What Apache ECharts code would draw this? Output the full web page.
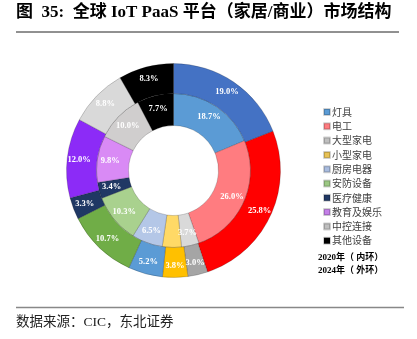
<!DOCTYPE html>
<html><head><meta charset="utf-8">
<script src="https://cdn.jsdelivr.net/npm/echarts@6/dist/echarts.min.js"></script>
<style>html,body{margin:0;padding:0;background:#fff}#c{width:417px;height:339px}</style>
</head><body><div id="c"></div>
<script>
var categories = ['灯具','电工','大型家电','小型家电','厨房电器','安防设备','医疗健康','教育及娱乐','中控连接','其他设备'];
var values2020 = [18.7, 26.0, 3.7, 4.0, 6.5, 10.3, 3.4, 9.8, 10.0, 7.7];
var values2024 = [19.0, 25.8, 3.0, 3.8, 5.2, 10.7, 3.3, 12.0, 8.8, 8.3];
var innerColors = ['#5B9BD5','#FF7C80','#D9D9D9','#FFD966','#B4C7E7','#A9D18E','#203864','#D98AF5','#D0CECE','#000000'];
var outerColors = ['#4472C4','#FF0000','#A5A5A5','#FFC000','#5B9BD5','#70AD47','#1F3864','#8C2BF7','#D9D9D9','#000000'];
var legendColors = ['#5B9BD5','#FF7C80','#BFBFBF','#E8C255','#A9BCDF','#9CC883','#203864','#C47FE8','#BFBFBF','#000000'];

var chart = echarts.init(document.getElementById('c'), null, {renderer:'canvas'});
function mk(vals, cols){
  return categories.map(function(n,i){return {name:n, value:vals[i], itemStyle:{color:cols[i]}};});
}
var labelStyle = {show:true, position:'inside', color:'#fff', fontSize:8.5, fontWeight:'bold',
  fontFamily:'Liberation Serif', formatter:function(p){return p.value.toFixed(1)+'%';}};
chart.setOption({
  animation:false,
  legend:{
    orient:'vertical', left:318, top:102, itemWidth:6, itemHeight:6, itemGap:4.3,
    icon:'rect',
    textStyle:{fontSize:10, lineHeight:10, color:'#404040', fontFamily:'Noto Sans CJK SC', padding:[0,0,0,-3]},
    data:categories.map(function(n,i){return {name:n, itemStyle:{color:legendColors[i]}};})
  },
  series:[
    {type:'pie', name:'2020', center:[173.5,170.5], radius:[45,77], startAngle:90, clockwise:true,
     silent:true, label:labelStyle, labelLine:{show:false},
     itemStyle:{borderColor:'rgba(0,0,0,0.18)', borderWidth:1},
     data:mk(values2020, innerColors)},
    {type:'pie', name:'2024', center:[173.5,170.5], radius:[77,107], startAngle:90, clockwise:true,
     silent:true, label:labelStyle, labelLine:{show:false},
     itemStyle:{borderColor:'rgba(0,0,0,0.18)', borderWidth:1},
     data:mk(values2024, outerColors)}
  ],
  graphic:[
    {type:'text', left:16, top:4, style:{text:'图  35:  全球 IoT PaaS 平台（家居/商业）市场结构', fontSize:17, fontWeight:'bold',
      fontFamily:'Liberation Serif, Noto Sans CJK SC', fill:'#000'}},
    {type:'line', shape:{x1:16,y1:32,x2:399,y2:32}, style:{stroke:'#222', lineWidth:1}},
    {type:'line', shape:{x1:16,y1:307.5,x2:404,y2:307.5}, style:{stroke:'#888', lineWidth:1.5}},
    {type:'text', left:16, top:316, style:{text:'数据来源：CIC，东北证券', fontSize:13.5,
      fontFamily:'Liberation Serif, Noto Sans CJK SC', fill:'#222'}},
    {type:'text', left:318, top:251, style:{text:'2020年（ 内环）\n2024年（ 外环）', fontSize:9, lineHeight:13, fontWeight:'bold',
      fontFamily:'Liberation Serif, Noto Sans CJK SC', fill:'#000'}}
  ]
});
</script></body></html>
